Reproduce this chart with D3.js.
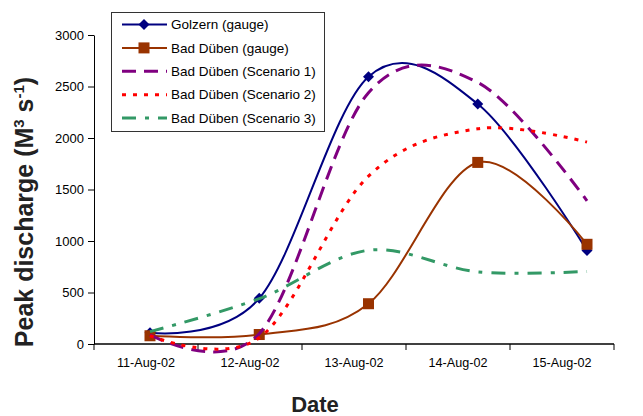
<!DOCTYPE html>
<html>
<head>
<meta charset="utf-8">
<script src="https://cdn.jsdelivr.net/npm/d3@7"></script>
<style>
body { margin: 0; background: #fff; }
svg { display: block; font-family: "Liberation Sans", Arial, sans-serif; }
</style>
</head>
<body>
<svg id="chart" width="643" height="416"></svg>
<script>
// data
const dates = ["11-Aug-02", "12-Aug-02", "13-Aug-02", "14-Aug-02", "15-Aug-02"];
const golzern = [110, 443, 2595, 2330, 908];
const badDuebenGauge = [80, 92, 391, 1763, 968];
const scenario1 = [90, 100, 2440, 2540, 1390];
const scenario2 = [80, 60, 1630, 2090, 1960];
const scenario3 = [120, 440, 910, 700, 705];
const yTicks = [0, 500, 1000, 1500, 2000, 2500, 3000];
const seriesNames = ["Golzern (gauge)", "Bad Düben (gauge)", "Bad Düben (Scenario 1)",
    "Bad Düben (Scenario 2)", "Bad Düben (Scenario 3)"];

const svg = d3.select("#chart");

const series = [
    {name: seriesNames[0], values: golzern, color: "#000080", width: 2, dash: null, marker: "diamond"},
    {name: seriesNames[1], values: badDuebenGauge, color: "#993300", width: 2, dash: null, marker: "square"},
    {name: seriesNames[2], values: scenario1, color: "#800080", width: 3, dash: "14,8", marker: null},
    {name: seriesNames[3], values: scenario2, color: "#FF0000", width: 3, dash: "4,7", marker: null},
    {name: seriesNames[4], values: scenario3, color: "#339966", width: 3, dash: "14,9,4,9", marker: null}
];

const xBand = d3.scaleBand().domain(dates).range([94, 614]);
const xData = d3.scaleLinear().domain([0, dates.length - 1]).range([150, 587]);
const y = d3.scaleLinear().domain([0, 3000]).range([344, 35]);

// y axis
const yAxis = svg.append("g")
    .attr("transform", "translate(94,0)")
    .call(d3.axisLeft(y).tickValues(yTicks).tickFormat(d3.format("d"))
        .tickSize(6).tickSizeOuter(0).tickPadding(4));
yAxis.selectAll("text").style("font-size", "13px").attr("fill", "#000");
yAxis.selectAll("line, path").attr("stroke", "#000");

// x axis, ticks between categories
const xAxis = svg.append("g").attr("transform", "translate(0,344)");
xAxis.append("line").attr("x1", 94).attr("x2", 614).attr("stroke", "#000").attr("stroke-width", 1.3);
const bounds = dates.map(d => xBand(d)).concat([xBand.range()[1]]);
xAxis.selectAll(".tick").data(bounds).enter().append("line")
    .attr("x1", d => d).attr("x2", d => d)
    .attr("y1", 0).attr("y2", 6)
    .attr("stroke", "#000");
xAxis.selectAll(".lbl").data(dates).enter().append("text")
    .attr("x", d => xBand(d) + xBand.bandwidth() / 2)
    .attr("y", 23)
    .attr("text-anchor", "middle")
    .style("font-size", "12.6px")
    .text(d => d);

// axis titles
svg.append("text")
    .attr("x", 315).attr("y", 412)
    .attr("text-anchor", "middle")
    .style("font-size", "22px").style("font-weight", "bold")
    .attr("fill", "#222")
    .text("Date");

const yTitle = svg.append("text")
    .attr("transform", "translate(33,212) rotate(-90)")
    .attr("text-anchor", "middle")
    .style("font-size", "25px").style("font-weight", "bold")
    .attr("fill", "#222");
yTitle.append("tspan").text("Peak discharge (M");
yTitle.append("tspan").attr("dy", -9).style("font-size", "15px").text("3");
yTitle.append("tspan").attr("dy", 9).text(" s");
yTitle.append("tspan").attr("dy", -9).style("font-size", "15px").text("-1");
yTitle.append("tspan").attr("dy", 9).text(")");

// lines
const line = d3.line()
    .x((d, i) => xData(i))
    .y(d => y(d))
    .curve(d3.curveCardinal.tension(0));

function drawMarker(g, type, cx, cy, color) {
    if (type === "diamond") {
        g.append("path")
            .attr("d", `M${cx},${cy - 5.5}L${cx + 5.5},${cy}L${cx},${cy + 5.5}L${cx - 5.5},${cy}Z`)
            .attr("fill", color);
    } else if (type === "square") {
        g.append("rect")
            .attr("x", cx - 5.5).attr("y", cy - 5.5)
            .attr("width", 11).attr("height", 11)
            .attr("fill", color);
    }
}

series.forEach(function (s) {
    const g = svg.append("g");
    g.append("path")
        .attr("d", line(s.values))
        .attr("fill", "none")
        .attr("stroke", s.color)
        .attr("stroke-width", s.width)
        .attr("stroke-dasharray", s.dash);
    if (s.marker) {
        s.values.forEach(function (v, i) {
            drawMarker(g, s.marker, xData(i), y(v), s.color);
        });
    }
});

// legend
const legend = svg.append("g");
legend.append("rect")
    .attr("x", 111.5).attr("y", 12.5)
    .attr("width", 213).attr("height", 119)
    .attr("fill", "#fff").attr("stroke", "#333").attr("stroke-width", 1);

series.forEach(function (s, i) {
    const ly = 24.5 + i * 23.4;
    const row = legend.append("g");
    row.append("line")
        .attr("x1", 122).attr("x2", 167)
        .attr("y1", ly).attr("y2", ly)
        .attr("stroke", s.color)
        .attr("stroke-width", s.width)
        .attr("stroke-dasharray", s.dash);
    if (s.marker) drawMarker(row, s.marker, 144, ly, s.color);
    row.append("text")
        .attr("x", 171).attr("y", ly)
        .attr("dy", "0.35em")
        .style("font-size", "13.5px")
        .text(s.name);
});
</script>
</body>
</html>
